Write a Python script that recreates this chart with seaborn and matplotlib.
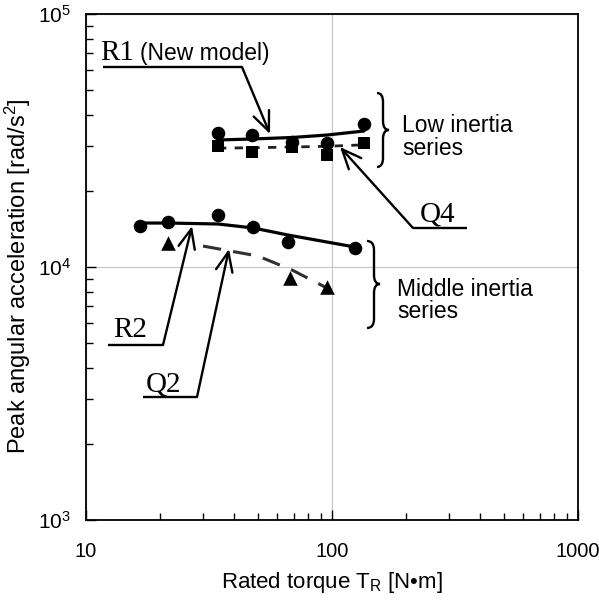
import matplotlib
matplotlib.use("Agg")
import matplotlib.pyplot as plt
from matplotlib import font_manager
from matplotlib.path import Path
from matplotlib.patches import PathPatch
from matplotlib.lines import Line2D
from matplotlib.transforms import Affine2D
import seaborn as sns
import numpy as np

# ---------------- data ----------------
# Low inertia series
r1_pts_x = [34.4, 47.3, 68.8, 95.4, 134.9]
r1_pts_y = [33860, 33240, 31180, 30900, 36740]
q4_pts_x = [34.4, 47.3, 68.8, 95.4, 134.9]
q4_pts_y = [30090, 28480, 29800, 27710, 30900]
r1_line_x = [34.4, 47.3, 68.8, 95.4, 134.9]
r1_line_y = [31770, 32060, 32500, 33240, 34470]
q4_line_x = [34.4, 47.3, 68.8, 95.4, 134.9]
q4_line_y = [29500, 29600, 29800, 30000, 30400]

# Middle inertia series
r2_pts_x = [16.58, 21.54, 34.4, 47.7, 66.2, 124.1]
r2_pts_y = [14520, 15060, 16050, 14380, 12550, 11890]
q2_pts_x = [21.5, 67.5, 95.4]
q2_pts_y = [12440, 9050, 8330]
r2_line_x = [16.58, 21.54, 34.4, 47.7, 66.2, 124.1]
r2_line_y = [14920, 14920, 14790, 14270, 13380, 11990]
q2_line_x = [29.9, 50.0, 68.8, 95.4]
q2_line_y = [12100, 11050, 9730, 8260]

x_ticks = [10, 100, 1000]
x_tick_labels = ["10", "100", "1000"]
y_ticks = [1e3, 1e4, 1e5]
y_tick_labels = [r"$\mathregular{10^{3}}$", r"$\mathregular{10^{4}}$", r"$\mathregular{10^{5}}$"]

# ---------------- style ----------------
sns.set_theme(style="white")
names = {f.name for f in font_manager.fontManager.ttflist}
narrow = "Liberation Sans Narrow" if "Liberation Sans Narrow" in names else None
plt.rcParams["font.family"] = ["Liberation Sans", "DejaVu Sans"]
plt.rcParams["mathtext.fontset"] = "custom"
plt.rcParams["mathtext.rm"] = "Liberation Sans"
plt.rcParams["mathtext.it"] = "Liberation Sans:italic"
plt.rcParams["mathtext.bf"] = "Liberation Sans:bold"

W, H = 599, 601
fig = plt.figure(figsize=(W / 100, H / 100), dpi=100)
ax = fig.add_axes([86 / W, 1 - 520 / H, (578 - 86) / W, (520 - 14) / H])

# pixel (top-left origin) -> figure
ptrans = Affine2D().scale(1 / W, -1 / H).translate(0, 1) + fig.transFigure

# ---------------- lines ----------------
sns.lineplot(x=r1_line_x, y=r1_line_y, ax=ax, color="black", lw=2.3,
             estimator=None, sort=False, zorder=2)
sns.lineplot(x=q4_line_x, y=q4_line_y, ax=ax, color="#202020", lw=2.0,
             estimator=None, sort=False, linestyle=(0, (3, 3)), zorder=2)
sns.lineplot(x=r2_line_x, y=r2_line_y, ax=ax, color="black", lw=2.3,
             estimator=None, sort=False, zorder=2)
sns.lineplot(x=q2_line_x, y=q2_line_y, ax=ax, color="#303030", lw=2.2,
             estimator=None, sort=False, linestyle=(0, (6, 4)), zorder=2)

# ---------------- markers ----------------
sns.scatterplot(x=r1_pts_x, y=r1_pts_y, ax=ax, marker="o", s=95,
                color="black", linewidth=0, zorder=3)
sns.scatterplot(x=q4_pts_x, y=q4_pts_y, ax=ax, marker="s", s=75,
                color="black", linewidth=0, zorder=3)
sns.scatterplot(x=r2_pts_x, y=r2_pts_y, ax=ax, marker="o", s=95,
                color="black", linewidth=0, zorder=3)
sns.scatterplot(x=q2_pts_x, y=q2_pts_y, ax=ax, marker="^", s=110,
                color="black", linewidth=0, zorder=3)

# ---------------- axes ----------------
ax.set_xscale("log")
ax.set_yscale("log")
ax.set_xlim(10, 1000)
ax.set_ylim(1e3, 1e5)
ax.set_xticks(x_ticks, labels=x_tick_labels)
ax.set_yticks(y_ticks, labels=y_tick_labels)
ax.tick_params(which="both", direction="in", top=False, right=False,
               bottom=True, left=True, color="black")
ax.tick_params(which="major", length=7, width=1.0)
ax.tick_params(which="minor", length=5, width=1.0)
ax.tick_params(axis="x", which="major", pad=16, labelsize=14.5, labelcolor="black")
ax.tick_params(axis="y", which="major", pad=11, labelsize=15, labelcolor="black")
ax.grid(True, which="major", color="#c8c8c8", lw=0.9)
ax.grid(False, which="minor")
for sp in ax.spines.values():
    sp.set_color("black")
    sp.set_linewidth(1.3)

ax.set_xlabel(r"Rated torque T$_{\mathregular{R}}$ [N•m]", fontsize=16, color="black")
ax.set_ylabel(r"Peak angular acceleration [rad/s$^{\mathregular{2}}$]", fontsize=17, color="black")
ax.xaxis.set_label_coords(0.5, -0.098)
ax.yaxis.set_label_coords(-0.108, 0.482)

# ---------------- annotations ----------------
sans = [narrow, "Liberation Sans", "DejaVu Sans"] if narrow else ["Liberation Sans", "DejaVu Sans"]
sans_size = 19.5 if narrow else 16.5
serif = ["Liberation Serif", "DejaVu Serif"]


def ptext(x, y, s, family, size):
    fig.text(x, y, s, transform=ptrans, family=family, fontsize=size,
             ha="left", va="baseline", color="black")


def seg(x0, y0, x1, y1, lw=1.7):
    fig.add_artist(Line2D([x0, x1], [y0, y1], transform=ptrans, color="black",
                          lw=lw, solid_capstyle="butt"))


def arrow(x0, y0, x1, y1):
    ax.annotate("", xy=(x1, y1), xytext=(x0, y0), xycoords=ptrans, textcoords=ptrans,
                arrowprops=dict(arrowstyle="->,head_length=0.7,head_width=0.3",
                                lw=1.7, color="black", shrinkA=0, shrinkB=0,
                                mutation_scale=20),
                annotation_clip=False)


def brace(x0, xc, xt, ytop, ymid, ybot, r=9):
    verts = [(x0, ytop), (xc, ytop), (xc, ytop + r),
             (xc, ymid - r), (xc, ymid), (xt, ymid),
             (xc, ymid), (xc, ymid + r),
             (xc, ybot - r), (xc, ybot), (x0, ybot)]
    codes = [Path.MOVETO, Path.CURVE3, Path.CURVE3,
             Path.LINETO, Path.CURVE3, Path.CURVE3,
             Path.CURVE3, Path.CURVE3,
             Path.LINETO, Path.CURVE3, Path.CURVE3]
    fig.add_artist(PathPatch(Path(verts, codes), transform=ptrans, fill=False,
                             lw=1.7, edgecolor="black"))


# R1
ptext(100, 60, "R1", serif, 21)
ptext(140, 60, "(New model)", sans, sans_size)
seg(103, 67, 242, 67)
arrow(242, 67, 270, 134)
# Q4
ptext(420, 222, "Q4", serif, 21)
seg(413, 228, 467, 228)
arrow(413, 228, 340, 147)
# R2
ptext(113, 337, "R2", serif, 21)
seg(108, 345, 163, 345)
arrow(163, 345, 192, 226)
# Q2
ptext(146, 392, "Q2", serif, 21)
seg(143, 397, 197, 397)
arrow(197, 397, 229, 249)

# braces and series labels
brace(377, 383, 389, 93, 130, 167)
ptext(402, 132, "Low inertia", sans, sans_size)
ptext(402, 155, "series", sans, sans_size)
brace(367, 374, 380, 241, 284, 328)
ptext(397, 296, "Middle inertia", sans, sans_size)
ptext(397, 318, "series", sans, sans_size)

fig.savefig("out.png", dpi=100)
